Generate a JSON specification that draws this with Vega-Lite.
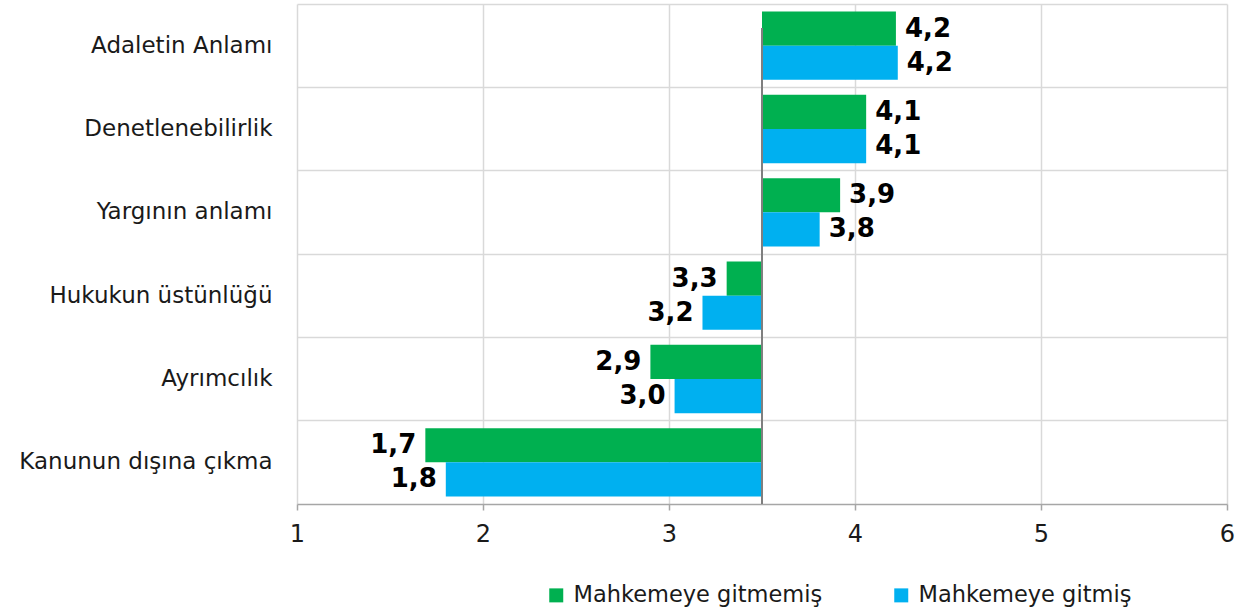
{
  "$schema": "https://vega.github.io/schema/vega-lite/v6.json",
  "autosize": "none",
  "padding": {"left": 297, "top": 4, "right": 22, "bottom": 111},
  "width": 930,
  "height": 500,
  "background": "white",
  "config": {"view": {"stroke": null}},
  "data": {"values": [
    {"cat": "Adaletin Anlamı", "series": "Mahkemeye gitmemiş", "value": 4.22, "label": "4,2"},
    {"cat": "Adaletin Anlamı", "series": "Mahkemeye gitmiş", "value": 4.23, "label": "4,2"},
    {"cat": "Denetlenebilirlik", "series": "Mahkemeye gitmemiş", "value": 4.06, "label": "4,1"},
    {"cat": "Denetlenebilirlik", "series": "Mahkemeye gitmiş", "value": 4.06, "label": "4,1"},
    {"cat": "Yargının anlamı", "series": "Mahkemeye gitmemiş", "value": 3.92, "label": "3,9"},
    {"cat": "Yargının anlamı", "series": "Mahkemeye gitmiş", "value": 3.81, "label": "3,8"},
    {"cat": "Hukukun üstünlüğü", "series": "Mahkemeye gitmemiş", "value": 3.31, "label": "3,3"},
    {"cat": "Hukukun üstünlüğü", "series": "Mahkemeye gitmiş", "value": 3.18, "label": "3,2"},
    {"cat": "Ayrımcılık", "series": "Mahkemeye gitmemiş", "value": 2.9, "label": "2,9"},
    {"cat": "Ayrımcılık", "series": "Mahkemeye gitmiş", "value": 3.03, "label": "3,0"},
    {"cat": "Kanunun dışına çıkma", "series": "Mahkemeye gitmemiş", "value": 1.69, "label": "1,7"},
    {"cat": "Kanunun dışına çıkma", "series": "Mahkemeye gitmiş", "value": 1.8, "label": "1,8"}
  ]},
  "encoding": {
    "y": {"field": "cat", "type": "nominal", "sort": null,
      "scale": {"paddingInner": 0, "paddingOuter": 0},
      "axis": {"title": null, "grid": true, "bandPosition": 0, "gridColor": "#d9d9d9", "gridWidth": 1.5,
        "domain": false, "ticks": false, "labelFont": "DejaVu Sans", "labelFontSize": 23, "labelLimit": 0,
        "labelColor": "#1a1a1a", "labelPadding": 25}},
    "yOffset": {"field": "series", "type": "nominal", "sort": ["Mahkemeye gitmemiş", "Mahkemeye gitmiş"],
      "scale": {"paddingInner": 0, "paddingOuter": 0.22}}
  },
  "layer": [
    {
      "mark": {"type": "bar"},
      "encoding": {
        "x": {"field": "value", "type": "quantitative",
          "scale": {"domain": [1, 6], "nice": false, "zero": false},
          "axis": {"title": null, "values": [1, 2, 3, 4, 5, 6], "format": "d", "grid": true, "labelFlush": false,
            "gridColor": "#d9d9d9", "gridWidth": 1.5, "domainColor": "#a6a6a6", "domainWidth": 1.5,
            "tickColor": "#a6a6a6", "tickSize": 6, "tickWidth": 1.5, "labelFont": "DejaVu Sans",
            "labelFontSize": 24, "labelColor": "#1a1a1a", "labelPadding": 12}},
        "x2": {"datum": 3.5},
        "color": {"field": "series", "type": "nominal",
          "scale": {"domain": ["Mahkemeye gitmemiş", "Mahkemeye gitmiş"], "range": ["#00B050", "#00B0F0"]},
          "legend": {"title": null, "orient": "none", "legendX": 248, "legendY": 580, "direction": "horizontal",
            "symbolType": "square", "symbolSize": 196, "symbolStrokeWidth": 0, "labelFont": "DejaVu Sans",
            "labelFontSize": 22.5, "labelColor": "#1a1a1a", "labelLimit": 0, "columnPadding": 67, "labelOffset": 6}}
      }
    },
    {
      "transform": [{"filter": "datum.value > 3.5"}],
      "mark": {"type": "text", "align": "left", "baseline": "middle", "dx": 9, "font": "DejaVu Sans",
        "fontWeight": "bold", "fontSize": 26, "color": "black"},
      "encoding": {
        "x": {"field": "value", "type": "quantitative"},
        "text": {"field": "label"}
      }
    },
    {
      "transform": [{"filter": "datum.value < 3.5"}],
      "mark": {"type": "text", "align": "right", "baseline": "middle", "dx": -9, "font": "DejaVu Sans",
        "fontWeight": "bold", "fontSize": 26, "color": "black"},
      "encoding": {
        "x": {"field": "value", "type": "quantitative"},
        "text": {"field": "label"}
      }
    },
    {
      "mark": {"type": "rule", "color": "#7f7f7f", "strokeWidth": 2},
      "encoding": {"x": {"datum": 3.5}, "y": {"value": 0}, "y2": {"value": 500}}
    }
  ]
}
